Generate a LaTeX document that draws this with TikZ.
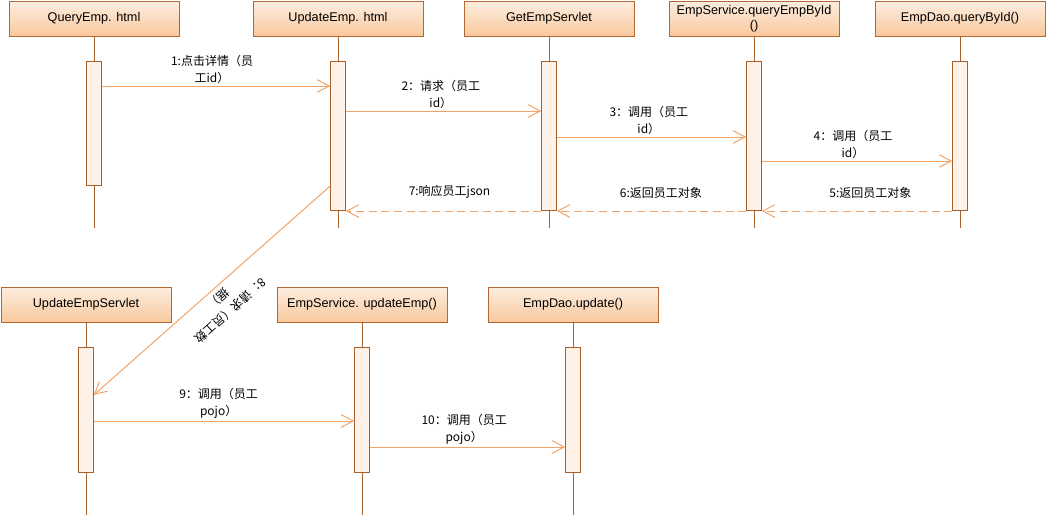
\documentclass[tikz,border=0pt]{standalone}
\usepackage{fontspec}
\setmainfont{Liberation Sans}
\newfontfamily\cjk{Noto Sans CJK SC}
\usepackage{tikz}
\usetikzlibrary{positioning,calc,arrows.meta}

\definecolor{boxtop}{RGB}{253,238,225}
\definecolor{boxbot}{RGB}{248,200,156}
\definecolor{boxline}{RGB}{180,104,52}
\definecolor{actfill}{RGB}{254,242,232}
\definecolor{lifec}{RGB}{168,96,40}
\definecolor{msgc}{RGB}{242,164,104}

\tikzset{
  obj/.style={draw=boxline, top color=boxtop, bottom color=boxbot, minimum width=127.5pt, minimum height=26.25pt, inner sep=1pt, align=center, font=\fontsize{9.5}{11.25}\selectfont},
  act/.style={draw=lifec, fill=actfill, minimum width=11.25pt, inner sep=0pt, anchor=north},
  life/.style={draw=lifec, line width=0.75pt},
  msg/.style={draw=msgc, line width=0.75pt, -{Straight Barb[length=9pt,width=9.5pt]}},
  ret/.style={msg, dash pattern=on 6pt off 3.5pt},
  lbl/.style={inner sep=0pt, align=center, font=\cjk\fontsize{9}{12.75}\selectfont}
}

\begin{document}
\begin{tikzpicture}[x=0.75pt,y=-0.75pt]
    \useasboundingbox (0,0) rectangle (1046,515);

    % Objects, first row
    \node[obj] (qe) at (94,18.5) {QueryEmp. html};
    \node[obj] (ue) at (338,18.5) {UpdateEmp. html};
    \node[obj] (ge) at (549,18.5) {GetEmpServlet};
    \node[obj] (sq) at (754,18.5) {EmpService.queryEmpById\\()};
    \node[obj] (dq) at (960,18.5) {EmpDao.queryById()};
    \foreach \o in {qe,ue,ge,sq,dq} \draw[life] (\o.south) -- ++(0,192);

    % Activations, first row
    \node[act, minimum height=93pt] (qa) at (94,61) {};
    \foreach \o/\x in {ua/338,ga/549,sa/754,da/960}
        \node[act, minimum height=111.75pt] (\o) at (\x,61) {};

    % Calls
    \draw[msg] (qa.east |- 0,86) -- (ua.west |- 0,86)
        node[lbl, midway, above=1.5pt, xshift=-3pt] {1:点击详情（员\\工id）};
    \draw[msg] (ua.east |- 0,111) -- (ga.west |- 0,111)
        node[lbl, midway, above=1.5pt, xshift=-2pt] {2：请求（员工\\id）};
    \draw[msg] (ga.east |- 0,137) -- (sa.west |- 0,137)
        node[lbl, midway, above=1.5pt, xshift=-2pt] {3：调用（员工\\id）};
    \draw[msg] (sa.east |- 0,161) -- (da.west |- 0,161)
        node[lbl, midway, above=1.5pt, xshift=-3pt] {4：调用（员工\\id）};

    % Returns
    \draw[ret] (da.west |- 0,211) -- (sa.east |- 0,211)
        node[lbl, midway, above=9pt, xshift=10pt] {5:返回员工对象};
    \draw[ret] (sa.west |- 0,211) -- (ga.east |- 0,211)
        node[lbl, midway, above=9pt, xshift=7pt] {6:返回员工对象};
    \draw[ret] (ga.west |- 0,211) -- (ua.east |- 0,211)
        node[lbl, midway, above=9pt, xshift=4.5pt] {7:响应员工json};

    % Objects, second row
    \node[obj] (us) at (86,304.5) {UpdateEmpServlet};
    \node[obj] (su) at (362,304.5) {EmpService. updateEmp()};
    \node[obj] (du) at (573,304.5) {EmpDao.update()};
    \foreach \o in {us,su,du} \draw[life] (\o.south) -- ++(0,193);

    % Activations, second row
    \foreach \o/\x in {usa/86,sua/362,dua/573}
        \node[act, minimum height=93.75pt] (\o) at (\x,347) {};

    % Update calls
    \draw[msg] (ua.west |- 0,186) -- (usa.east |- 0,395);
    \node[lbl, rotate=222, anchor=south] (l8) at (215,294) {8：请求（员工数\\据）};
    \draw[msg] (usa.east |- 0,421) -- (sua.west |- 0,421)
        node[lbl, midway, above=1.5pt, xshift=-4pt] {9：调用（员工\\pojo）};
    \draw[msg] (sua.east |- 0,447) -- (dua.west |- 0,447)
        node[lbl, midway, above=1.5pt, xshift=-2.5pt] {10：调用（员工\\pojo）};
\end{tikzpicture}
\end{document}
